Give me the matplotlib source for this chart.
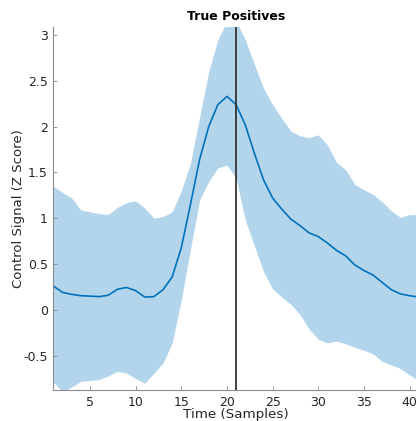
import matplotlib
matplotlib.use('Agg')
import matplotlib.pyplot as plt
import numpy as np

# samples 1..41
samples = np.arange(1, 42)
mean_sig = [0.26, 0.19, 0.17, 0.155, 0.15, 0.145, 0.16, 0.225, 0.245, 0.21,
            0.14, 0.145, 0.22, 0.36, 0.68, 1.15, 1.64, 2.0, 2.24, 2.33,
            2.24, 2.02, 1.71, 1.42, 1.22, 1.1, 0.99, 0.92, 0.84, 0.80,
            0.73, 0.65, 0.59, 0.49, 0.43, 0.38, 0.30, 0.22, 0.175, 0.155, 0.14]
upper = [1.35, 1.28, 1.22, 1.09, 1.07, 1.05, 1.04, 1.12, 1.17, 1.19,
         1.11, 1.0, 1.02, 1.07, 1.3, 1.6, 2.1, 2.6, 2.95, 3.15,
         3.15, 2.95, 2.68, 2.42, 2.24, 2.09, 1.95, 1.90, 1.88, 1.91,
         1.80, 1.61, 1.53, 1.37, 1.31, 1.26, 1.18, 1.08, 1.01, 1.04, 1.04]
lower = [-0.79, -0.9, -0.84, -0.78, -0.77, -0.76, -0.72, -0.67, -0.69, -0.75,
         -0.80, -0.69, -0.58, -0.36, 0.11, 0.66, 1.2, 1.40, 1.55, 1.58,
         1.44, 0.98, 0.7, 0.42, 0.23, 0.14, 0.06, -0.05, -0.21, -0.32,
         -0.36, -0.34, -0.37, -0.41, -0.44, -0.48, -0.56, -0.60, -0.64, -0.71, -0.77]
event_x = 21
xticks = [5, 10, 15, 20, 25, 30, 35, 40]
yticks = [-0.5, 0, 0.5, 1, 1.5, 2, 2.5, 3]

LINE = '#0072BD'
BAND = '#b3d5eb'
AX = '#8a8a8a'
TXT = '#262626'

fig = plt.figure(figsize=(4.16, 4.21), dpi=100)
ax = fig.add_axes([53.5 / 416, 31 / 421, 365.2 / 416, 363 / 421])

ax.fill_between(samples, lower, upper, color=BAND, lw=0)
ax.plot(samples, mean_sig, color=LINE, lw=1.2)
ax.axvline(event_x, color='#333333', lw=1.3)

ax.set_xlim(1, 41)
ax.set_ylim(-0.874, 3.087)
ax.set_xticks(xticks)
ax.set_yticks(yticks)
ax.set_yticklabels(['-0.5', '0', '0.5', '1', '1.5', '2', '2.5', '3'])
for s in ['top', 'right']:
    ax.spines[s].set_visible(False)
for s in ['left', 'bottom']:
    ax.spines[s].set_color(AX)
    ax.spines[s].set_linewidth(0.8)
ax.tick_params(direction='in', length=3, width=0.6, color=AX,
               labelsize=9, labelcolor=TXT, pad=4)

ax.set_title('True Positives', fontsize=9, fontweight='bold', pad=5)
ax.set_xlabel('Time (Samples)', fontsize=9.7, color=TXT, labelpad=-0.5)
ax.set_ylabel('Control Signal (Z Score)', fontsize=9.5, color=TXT, labelpad=-1)

fig.savefig('out.png', dpi=100)
